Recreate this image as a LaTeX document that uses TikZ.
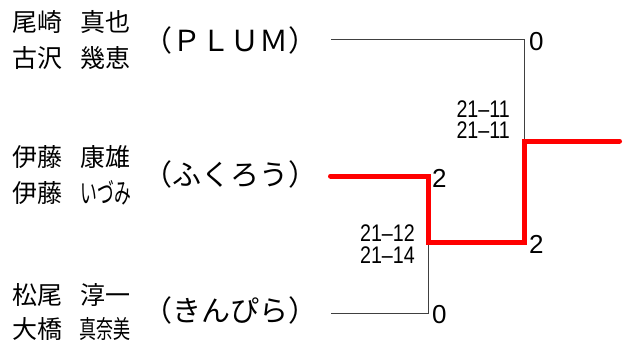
\documentclass[tikz,border=0pt]{standalone}
\usepackage{fontspec}
\setmainfont{Liberation Sans}
\newfontfamily\jpfont{Noto Sans CJK JP}
\newfontfamily\jpnarrow[FakeStretch=0.68]{Noto Sans CJK JP}
\newfontfamily\jpnarrowkana[FakeStretch=0.6]{Noto Sans CJK JP}
\newfontfamily\numnarrow[FakeStretch=0.82]{Liberation Sans}
\begin{document}
\begin{tikzpicture}[x=1pt,y=-1pt,
  nm/.style={inner sep=0pt, font=\jpfont\fontsize{25}{25}\selectfont},
  sur/.style={nm, anchor=base west},
  given/.style={nm, anchor=base east},
  givennarrow/.style={inner sep=0pt, anchor=base east, font=\jpnarrow\fontsize{25}{25}\selectfont},
  givenkana/.style={inner sep=0pt, anchor=base east, font=\jpnarrowkana\fontsize{28}{28}\selectfont},
  team/.style={inner sep=0pt, anchor=base, font=\jpfont\fontsize{29}{29}\selectfont},
  score/.style={inner sep=0pt, anchor=base west, font=\fontsize{26}{26}\selectfont},
  game/.style={inner sep=0pt, anchor=base east, font=\numnarrow\fontsize{24}{24}\selectfont},
  thinline/.style={draw=black!75, line width=1pt},
  winline/.style={draw=red, line width=5pt, line cap=round, line join=miter}]
\useasboundingbox (0,0) rectangle (625,349);

% names
\node[sur] (s1a) at (12,31) {尾崎};
\node[given] (g1a) at (131,31) {真也};
\node[sur] (s1b) at (12,67) {古沢};
\node[given] (g1b) at (131,67) {幾恵};
\node[sur] (s2a) at (12,166) {伊藤};
\node[given] (g2a) at (131,166) {康雄};
\node[sur] (s2b) at (12,202) {伊藤};
\node[givenkana] (g2b) at (131,203.5) {いづみ};
\node[sur] (s3a) at (12,304) {松尾};
\node[given] (g3a) at (131,304) {淳一};
\node[sur] (s3b) at (12,338) {大橋};
\node[givennarrow] (g3b) at (131,338) {真奈美};

% teams
\node[team] (t1) at (230,51) {（ＰＬＵＭ）};
\node[team] (t2) at (230,185) {（ふくろう）};
\node[team] (t3) at (230,321) {（きんぴら）};

% bracket coordinates
\coordinate (pA) at (331,39);
\coordinate (jA) at (524,39);
\coordinate (fin) at (524,141);
\coordinate (win) at (619.5,141);
\coordinate (pB) at (330.5,176);
\coordinate (jB) at (428,176);
\coordinate (semi) at (428,242);
\coordinate (pC) at (331,313);
\coordinate (jC) at (428,313);

\draw[thinline] (pA) -- (jA) -- (fin);
\draw[thinline] (pC) -- (jC) -- (semi);
\draw[winline] (pB) -- (jB) -- (semi) -| (fin) -- (win);

% scores
\node[score] (sc1) at (529,50) {0};
\node[score] (sc2) at (432,187) {2};
\node[score] (sc3) at (529,253) {2};
\node[score] (sc4) at (432,323) {0};

% game scores
\node[game] (gf1) at (510,117) {21–11};
\node[game] (gf2) at (510,138) {21–11};
\node[game] (gs1) at (415,241.5) {21–12};
\node[game] (gs2) at (415,263) {21–14};
\end{tikzpicture}
\end{document}
